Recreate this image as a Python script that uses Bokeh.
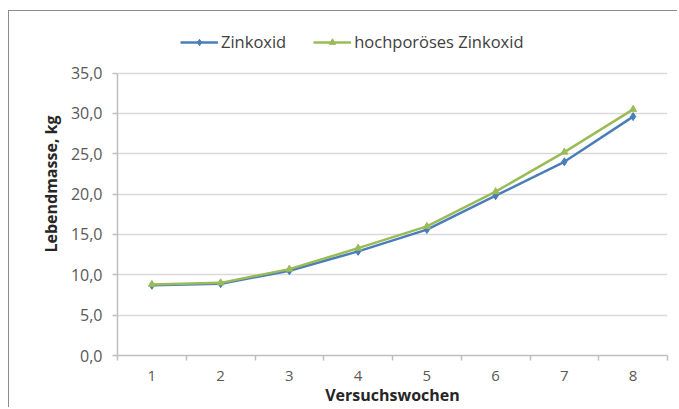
from bokeh.plotting import figure
from bokeh.models import Range1d, FixedTicker, Legend, LegendItem
from bokeh.embed import file_html
from bokeh.resources import INLINE

weeks = [1, 2, 3, 4, 5, 6, 7, 8]
zinkoxid = [8.7, 8.9, 10.5, 12.9, 15.6, 19.8, 24.0, 29.6]
hochporoes = [8.8, 9.0, 10.7, 13.3, 16.0, 20.3, 25.2, 30.5]
y_ticks = [0, 5, 10, 15, 20, 25, 30, 35]
y_tick_labels = ["0,0", "5,0", "10,0", "15,0", "20,0", "25,0", "30,0", "35,0"]
x_tick_labels = ["1", "2", "3", "4", "5", "6", "7", "8"]
series_names = ["Zinkoxid", "hochporöses Zinkoxid"]
x_label = "Versuchswochen"
y_label = "Lebendmasse, kg"

FONT = "Open Sans"
BLUE = "#4a7ebb"
GREEN = "#9bbb59"

p = figure(width=669, height=397, output_backend="svg", toolbar_location=None,
           x_range=Range1d(0.5, 8.5), y_range=Range1d(0, 42.5),
           min_border_left=108, min_border_top=1, min_border_bottom=40,
           min_border_right=11)
p.styles = {"margin-left": "8px", "margin-top": "10px",
            "border-left": "1.5px solid #8c8c8c", "border-top": "1.5px solid #8c8c8c"}
p.outline_line_color = None
p.background_fill_color = "white"
p.border_fill_color = "white"

l1 = p.line(weeks, zinkoxid, line_color=BLUE, line_width=2.5)
s1 = p.scatter(weeks, zinkoxid, marker="diamond", size=8, color=BLUE)
l2 = p.line(weeks, hochporoes, line_color=GREEN, line_width=2.5)
s2 = p.scatter(weeks, hochporoes, marker="triangle", size=7, color=GREEN)

# x axis
p.xaxis.ticker = FixedTicker(ticks=weeks, minor_ticks=[w - 0.5 for w in weeks] + [8.5])
p.xaxis.major_label_overrides = {w: t for w, t in zip(weeks, x_tick_labels)}
p.xaxis.major_tick_line_color = None
p.xaxis.major_tick_in = 0
p.xaxis.major_tick_out = 0
p.xaxis.minor_tick_in = 0
p.xaxis.minor_tick_out = 5
p.xaxis.minor_tick_line_color = "#bfbfbf"
p.xaxis.minor_tick_line_width = 1.5
p.xaxis.axis_line_color = "#bfbfbf"
p.xaxis.axis_line_width = 1.5
p.xaxis.major_label_standoff = 10
p.xaxis.major_label_text_font_size = "15px"
p.xaxis.axis_label = x_label
p.xaxis.axis_label_standoff = 0

# y axis
p.yaxis.ticker = FixedTicker(ticks=y_ticks, minor_ticks=[])
p.yaxis.bounds = (y_ticks[0], y_ticks[-1])
p.yaxis.major_label_overrides = {v: t for v, t in zip(y_ticks, y_tick_labels)}
p.yaxis.major_tick_in = 0
p.yaxis.major_tick_out = 5
p.yaxis.major_tick_line_color = "#bfbfbf"
p.yaxis.major_tick_line_width = 1.5
p.yaxis.axis_line_color = "#bfbfbf"
p.yaxis.axis_line_width = 1.5
p.yaxis.major_label_standoff = 10
p.yaxis.major_label_text_font_size = "16px"
p.yaxis.axis_label = y_label
p.yaxis.axis_label_standoff = 6

for ax in (p.xaxis, p.yaxis):
    ax.major_label_text_font = FONT
    ax.major_label_text_color = "#595959"
    ax.axis_label_text_font = FONT
    ax.axis_label_text_font_size = "16px"
    ax.axis_label_text_font_style = "bold"
    ax.axis_label_text_color = "#262626"

p.xgrid.grid_line_color = None
p.ygrid.grid_line_color = "#d9d9d9"
p.ygrid.grid_line_width = 1.5

legend = Legend(items=[LegendItem(label=series_names[0], renderers=[l1, s1]),
                       LegendItem(label=series_names[1], renderers=[l2, s2])],
                orientation="horizontal", location=(63, 302),
                glyph_width=38, glyph_height=16, label_standoff=3, spacing=27,
                padding=2, margin=0,
                label_text_font=FONT, label_text_font_size="16.5px",
                label_text_color="#404040",
                border_line_color=None, background_fill_alpha=0)
p.add_layout(legend, "center")

open("out.html", "w").write(file_html(p, INLINE))
